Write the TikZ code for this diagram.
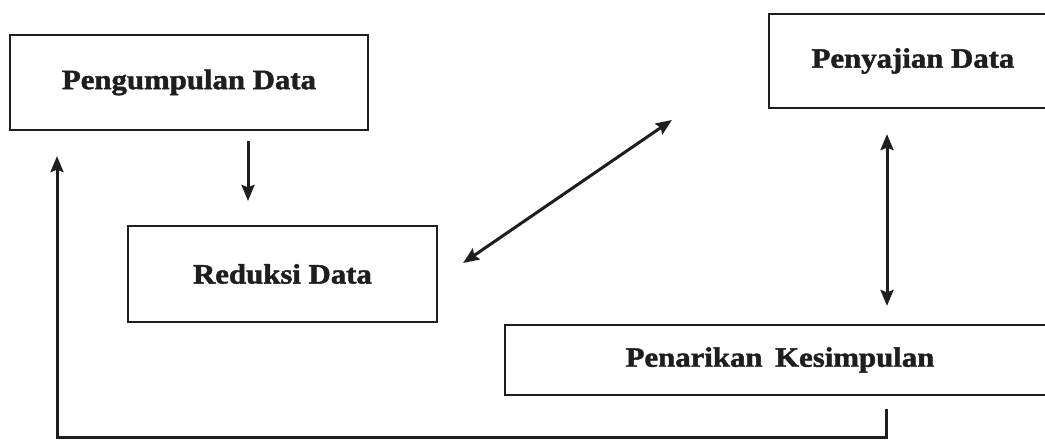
\documentclass[tikz,border=0pt]{standalone}
\usepackage{fontspec}
\setmainfont{Liberation Serif}[FakeStretch=1.1, BoldFeatures={FakeBold=1.6}]
\usetikzlibrary{arrows.meta}
\definecolor{ink}{HTML}{1E1E1E}
\begin{document}
\begin{tikzpicture}[x=1pt,y=-1pt,
  box/.style={draw=ink, line width=2.2pt, rectangle, inner sep=0pt, text=ink,
    font=\fontsize{28}{32}\selectfont\bfseries},
  tip/.style={},
  arr/.style={draw=ink, line width=3pt, -{Stealth[length=16pt,width=13pt,inset=2.5pt]}},
  darr/.style={draw=ink, line width=3pt, {Stealth[length=16pt,width=13pt,inset=2.5pt]}-{Stealth[length=16pt,width=13pt,inset=2.5pt]}},
  line/.style={draw=ink, line width=3pt}]
\useasboundingbox (0,0) rectangle (1045,440);
\fill[white] (0,0) rectangle (1045,440);

\node[box, minimum width=358pt, minimum height=95pt] (peng) at (189,82.5) {Pengumpulan Data};
\node[box, minimum width=309pt, minimum height=96pt] (red) at (282.5,274) {Reduksi Data};
\node[box, minimum width=288pt, minimum height=94pt] (peny) at (913,61) {Penyajian Data};
\node[box, minimum width=550pt, minimum height=70pt] (pen) at (780,360) {Penarikan\hspace{0.45em}Kesimpulan};

% Pengumpulan -> Reduksi
\draw[arr] ([xshift=59pt,yshift=-10pt]peng.south) -- ([xshift=-34.5pt,yshift=24pt]red.north);
% Reduksi <-> Penyajian
\draw[darr] ([xshift=25pt,yshift=11pt]red.east) -- ([xshift=-96pt,yshift=-59pt]peny.west);
% Penyajian <-> Penarikan
\draw[darr] ([xshift=-26pt,yshift=-25pt]peny.south) -- ([xshift=107pt,yshift=18pt]pen.north);
% Feedback Penarikan -> Pengumpulan
\coordinate (fb) at ([xshift=106pt,yshift=-13pt]pen.south);
\draw[line] (fb) -- ++(0,28) coordinate (corner) -- ([xshift=-1.5pt]corner -| 57,0);
\draw[arr] ([yshift=1.5pt]corner -| 57,0) -- ([xshift=-132pt,yshift=-25pt]peng.south);
\end{tikzpicture}
\end{document}
